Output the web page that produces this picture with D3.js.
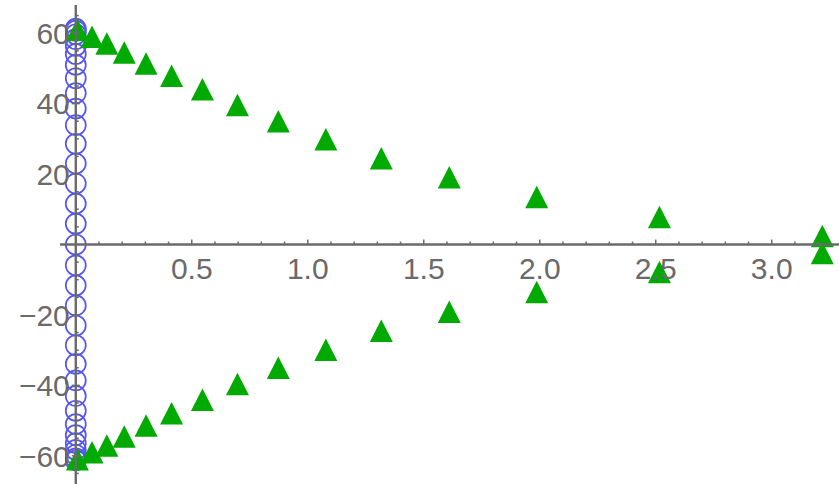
<!DOCTYPE html>
<html>
<head>
<meta charset="utf-8">
<script src="https://cdn.jsdelivr.net/npm/d3@7"></script>
<style>
  html, body { margin: 0; padding: 0; background: #fff; }
  svg { display: block; }
</style>
</head>
<body>
<svg id="chart" width="839" height="484"></svg>
<script>
// Paired roots (x, ±y) drawn as green triangles
const triX = [0.007, 0.070, 0.134, 0.209, 0.303, 0.413, 0.546, 0.697, 0.873, 1.078, 1.317, 1.610, 1.987, 2.516, 3.218];
const triY = [61.0, 59.0, 57.1, 54.5, 51.4, 47.9, 44.1, 39.6, 35.0, 29.9, 24.5, 19.1, 13.5, 7.8, 2.4];

// Values on the imaginary axis (x = 0), drawn as open blue circles (upper half; mirrored below)
const circY = [0, 5.9, 11.6, 17.3, 23.0, 28.6, 33.9, 38.6, 43.0, 47.2, 51.0, 54.1, 56.4, 58.3, 59.7, 60.7, 61.3];

// Tick values
const xMajor = [0.5, 1.0, 1.5, 2.0, 2.5, 3.0];
const yMajor = [-60, -40, -20, 20, 40, 60];

const W = 839, H = 484;
const svg = d3.select("#chart");

const x = d3.scaleLinear().domain([-0.068, 3.29]).range([60, W]);
const y = d3.scaleLinear().domain([-68, 68]).range([H, 5]);

const axisColor = "#6a6a6a";
const textColor = "#6a6a6a";

// Build point sets
const triangles = [];
triX.forEach((xv, i) => {
  triangles.push({ x: xv, y: triY[i] });
  triangles.push({ x: xv, y: -triY[i] });
});
const circles = [];
circY.forEach(v => {
  circles.push(v);
  if (v !== 0) circles.push(-v);
});

// Open circles
svg.append("g")
  .selectAll("circle")
  .data(circles)
  .join("circle")
  .attr("cx", x(0))
  .attr("cy", d => y(d))
  .attr("r", 10)
  .attr("fill", "none")
  .attr("stroke", "rgb(85,85,240)")
  .attr("stroke-width", 1.7);

// Filled triangles centred on their bounding box
const tw = 23, th = 22.5;
const triPath = `M0,${-th / 2}L${tw / 2},${th / 2}L${-tw / 2},${th / 2}Z`;
svg.append("g")
  .selectAll("path")
  .data(triangles)
  .join("path")
  .attr("d", triPath)
  .attr("transform", d => `translate(${x(d.x)},${y(d.y)})`)
  .attr("fill", "rgb(0,170,0)");

// Axes drawn through the origin
const axes = svg.append("g");

// x axis
const xAxis = d3.axisTop(x)
  .tickValues(d3.range(1, 33).map(i => i / 10))
  .tickSize(0)
  .tickFormat("");
const gx = axes.append("g").attr("transform", `translate(0,${y(0)})`).call(xAxis);
gx.select(".domain").remove();
axes.append("line")
  .attr("x1", x.range()[0]).attr("x2", x.range()[1])
  .attr("y1", y(0)).attr("y2", y(0))
  .attr("stroke", axisColor).attr("stroke-width", 2.4);

// x ticks (minor every 0.1, major every 0.5)
const xMinor = d3.range(1, 33).map(i => +(i / 10).toFixed(1));
axes.append("g").selectAll("line")
  .data(xMinor)
  .join("line")
  .attr("x1", d => x(d)).attr("x2", d => x(d))
  .attr("y1", y(0))
  .attr("y2", d => y(0) - (xMajor.includes(d) ? 5 : 3))
  .attr("stroke", axisColor).attr("stroke-width", 1.5);

axes.append("g").selectAll("text")
  .data(xMajor)
  .join("text")
  .attr("x", d => x(d))
  .attr("y", y(0) + 34)
  .attr("text-anchor", "middle")
  .attr("font-family", "Liberation Sans, Arial, sans-serif")
  .attr("font-size", 30)
  .attr("fill", textColor)
  .text(d => d.toFixed(1));

// y axis
axes.append("line")
  .attr("x1", x(0)).attr("x2", x(0))
  .attr("y1", y.range()[1]).attr("y2", y.range()[0])
  .attr("stroke", axisColor).attr("stroke-width", 2.4);

const yMinor = d3.range(-65, 66, 5).filter(v => v !== 0);
axes.append("g").selectAll("line")
  .data(yMinor)
  .join("line")
  .attr("x1", d => yMajor.includes(d) ? x(0) - 4 : x(0))
  .attr("x2", d => x(0) + (yMajor.includes(d) ? 4 : 3))
  .attr("y1", d => y(d)).attr("y2", d => y(d))
  .attr("stroke", axisColor).attr("stroke-width", 1.5);

axes.append("g").selectAll("text")
  .data(yMajor)
  .join("text")
  .attr("x", x(0) - 6)
  .attr("y", d => y(d) + 10.8)
  .attr("text-anchor", "end")
  .attr("font-family", "Liberation Sans, Arial, sans-serif")
  .attr("font-size", 30)
  .attr("fill", textColor)
  .text(d => (d < 0 ? "\u2212" + Math.abs(d) : String(d)));
</script>
</body>
</html>
